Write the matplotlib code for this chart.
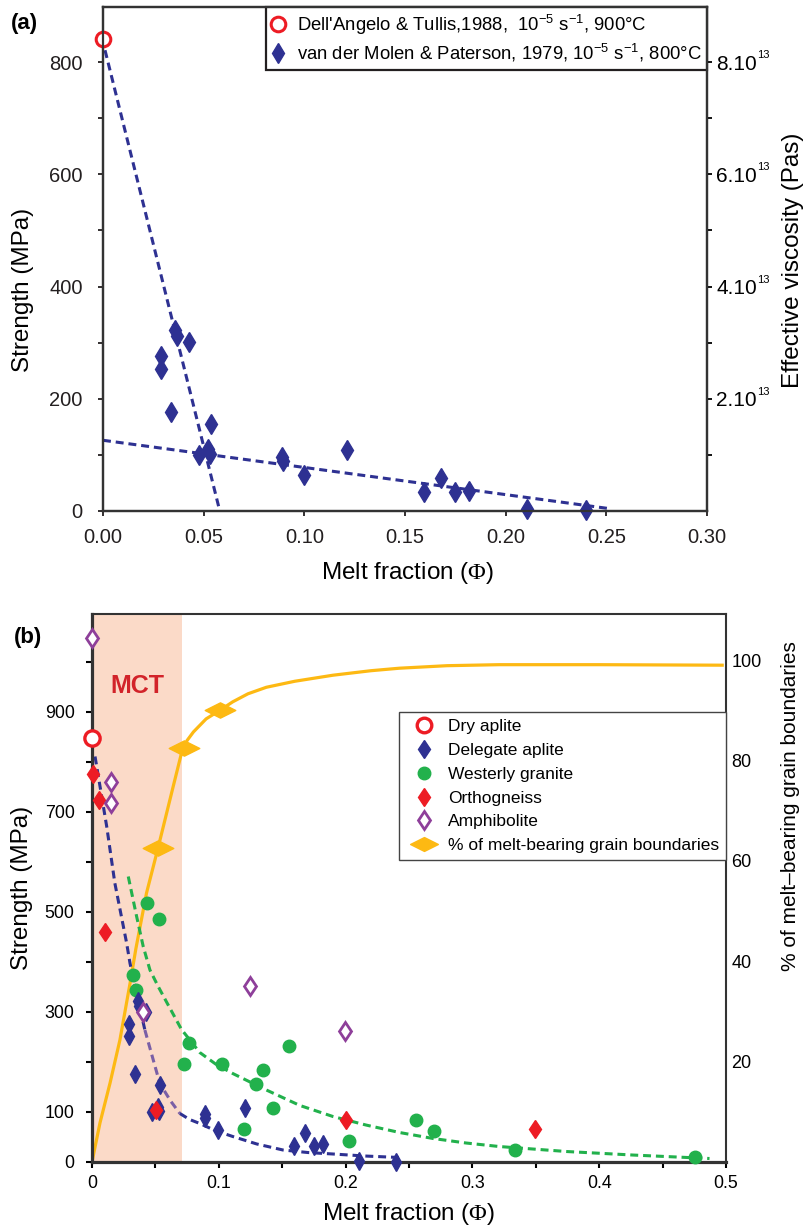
import numpy as np
import matplotlib.pyplot as plt
from matplotlib.lines import Line2D
from matplotlib.path import Path
from matplotlib.transforms import blended_transform_factory

plt.rcParams['font.family'] = ['Liberation Sans', 'DejaVu Sans']
plt.rcParams['mathtext.fontset'] = 'custom'
plt.rcParams['mathtext.rm'] = 'Liberation Sans'
plt.rcParams['mathtext.it'] = 'Liberation Sans:italic'
plt.rcParams['mathtext.bf'] = 'Liberation Sans:bold'
plt.rcParams['mathtext.tt'] = 'Liberation Serif'

# colores
navy = '#2e3192'
red = '#ed1c24'
green = '#22b14c'
purple = '#8e3f9a'
lavender = '#7a5fa6'
yellow = '#fdb913'
salmon = '#fbdac8'
black = '#231f20'

# ---------------- datos ----------------
# Dell'Angelo & Tullis (dry aplite)
dry_x_a = [0.0]
dry_y_a = [841]
dry_x_b = [0.0]
dry_y_b = [849]

# van der Molen & Paterson (Delegate aplite)
del_x = [0.029, 0.029, 0.034, 0.036, 0.037, 0.0425, 0.0477, 0.052, 0.053, 0.0535,
         0.089, 0.0895, 0.0997, 0.121, 0.1595, 0.1677, 0.175, 0.182, 0.2105, 0.240]
del_y = [276, 253, 176, 322, 312, 301, 100, 111, 102, 155,
         97, 89, 64, 109, 33, 58, 33, 36, 3, 1]

# rectas de ajuste (a)
steep_x = [0.001, 0.058]
steep_y = [821, 0]
shallow_x = [0.0, 0.252]
shallow_y = [126, 4]

# Westerly granite
wes_x = [0.0325, 0.0346, 0.043, 0.053, 0.0766, 0.0727, 0.1026, 0.1349, 0.1297, 0.155,
         0.1428, 0.12, 0.2024, 0.2557, 0.27, 0.3336, 0.4753]
wes_y = [374, 344, 519, 487, 239, 196, 196, 185, 157, 233,
         109, 66, 42, 85, 63, 24, 11]

# Orthogneiss
ort_x = [0.0005, 0.0055, 0.0102, 0.0501, 0.2, 0.3494]
ort_y = [777, 724, 461, 104, 85, 67]

# Amphibolite
amp_x = [0.0003, 0.015, 0.015, 0.04, 0.1244, 0.1992]
amp_y = [1049, 761, 719, 301, 352, 262]

# curvas de ajuste (b)
blue_fx = [0.0024, 0.0116, 0.018, 0.0273, 0.030, 0.0417, 0.0535, 0.062, 0.0693, 0.077,
           0.085, 0.097, 0.111, 0.13, 0.1506, 0.17, 0.19, 0.215, 0.2425]
blue_fy = [811, 671, 558, 438, 397, 264, 157, 122, 97, 85,
           77, 63, 51, 36, 24, 19, 16, 12, 9]
green_fx = [0.0286, 0.0352, 0.0404, 0.0457, 0.052, 0.0588, 0.0706, 0.085, 0.098, 0.111,
            0.1375, 0.164, 0.19, 0.216, 0.2425, 0.269, 0.295, 0.321, 0.374, 0.426, 0.487]
green_fy = [571, 491, 431, 384, 352, 320, 265, 219, 195, 177,
            144, 113, 91, 74, 59, 47, 38, 31, 21, 14, 7]

# % de bordes de grano con fundido
pct_x = [0, 0.0063, 0.0142, 0.022, 0.030, 0.0346, 0.043, 0.052, 0.064, 0.0706,
         0.075, 0.080, 0.090, 0.1008, 0.111, 0.123, 0.1375, 0.16, 0.19, 0.22,
         0.2425, 0.28, 0.321, 0.40, 0.497]
pct_y = [0, 7.8, 15.7, 24.3, 35.6, 42.5, 53.6, 62.5, 74.8, 81.5,
         84.0, 85.7, 88.3, 90.0, 91.7, 93.3, 94.6, 95.8, 97.0, 97.9,
         98.4, 98.9, 99.1, 99.1, 99.0]
pct_mx = [0.052, 0.0725, 0.1008]
pct_my = [62.5, 82.5, 90]

mct_end = 0.0706

# ticks
xa_ticks = [0, 0.05, 0.10, 0.15, 0.20, 0.25, 0.30]
xa_labels = ['0.00', '0.05', '0.10', '0.15', '0.20', '0.25', '0.30']
ya_ticks = [0, 200, 400, 600, 800]
visc_ticks = [2, 4, 6, 8]
visc_labels = ['%d.10' % v for v in visc_ticks]
xb_ticks = [0, 0.1, 0.2, 0.3, 0.4, 0.5]
xb_labels = ['0', '0.1', '0.2', '0.3', '0.4', '0.5']
yb_ticks = [0, 100, 300, 500, 700, 900]
pct_ticks = [20, 40, 60, 80, 100]

# rombo ancho para el % (marcador propio)
wide_diamond = Path([(-1, 0), (0, 0.5), (1, 0), (0, -0.5), (-1, 0)],
                    [Path.MOVETO, Path.LINETO, Path.LINETO, Path.LINETO, Path.CLOSEPOLY])

W, H = 807, 1229
fig = plt.figure(figsize=(W / 100, H / 100), dpi=100)

# ================= (a) =================
ax = fig.add_axes([103 / W, 1 - 511 / H, 604 / W, 504 / H])
ax.plot(steep_x, steep_y, color=navy, lw=2.2, dashes=(2.6, 1.6), zorder=2)
ax.plot(shallow_x, shallow_y, color=navy, lw=2.2, dashes=(2.6, 1.6), zorder=2)
ax.plot(del_x, del_y, 'd', color=navy, ms=10, ls='none', zorder=3, clip_on=False)
ax.plot(dry_x_a, dry_y_a, 'o', mfc='white', mec=red, mew=2.2, ms=10.5, ls='none',
        zorder=4, clip_on=False)
ax.set_xlim(0, 0.30)
ax.set_ylim(0, 898)
ax.set_xticks(xa_ticks)
ax.set_xticklabels(xa_labels)
ax.set_yticks(ya_ticks)
ax.set_yticks(np.arange(100, 800, 200), minor=True)
ax.tick_params(axis='y', which='both', direction='out', length=3.5, width=1.3,
               labelsize=14.5, pad=11, colors=black)
ax.tick_params(axis='x', which='both', direction='out', length=3.5, width=1.3,
               labelsize=14.5, pad=9, colors=black)
for s in ax.spines.values():
    s.set_linewidth(1.6)
    s.set_color('#333333')
ax.set_xlabel(r'Melt fraction ($\mathtt{\Phi}$)', fontsize=17.5, va='center')
ax.xaxis.set_label_coords((408 - 103) / 604, (511 - 573) / 504)
ax.set_ylabel('Strength (MPa)', fontsize=17.5, va='center')
ax.yaxis.set_label_coords((23 - 103) / 604, (511 - 290) / 504)

ax2 = ax.twinx()
ax2.set_ylim(0, 8.98)
ax2.set_yticks(visc_ticks)
ax2.set_yticklabels(visc_labels)
ax2.set_yticks([1, 3, 5, 7], minor=True)
ax2.tick_params(axis='y', which='both', direction='out', length=3.5, width=1.3,
                labelsize=15, pad=3)
# exponente pequeño de las etiquetas de viscosidad
tr = blended_transform_factory(ax2.transAxes, ax2.transData)
for v in visc_ticks:
    ax2.annotate('13', xy=(1, v), xycoords=tr, xytext=(36, 5), textcoords='offset points',
                 fontsize=8, ha='left', va='center', annotation_clip=False)
ax2.set_ylabel('Effective viscosity (Pas)', fontsize=17.5, va='center', rotation=90)
ax2.yaxis.set_label_coords((793 - 103) / 604, (511 - 260) / 504)
for s in ax2.spines.values():
    s.set_linewidth(1.6)
    s.set_color('#333333')

h_a = [Line2D([], [], marker='o', mfc='white', mec=red, mew=2.2, ms=10.5, ls='none'),
       Line2D([], [], marker='d', color=navy, ms=10, ls='none')]
l_a = [r"Dell'Angelo & Tullis,1988,  10$^{-5}$ s$^{-1}$, 900°C",
       r'van der Molen & Paterson, 1979, 10$^{-5}$ s$^{-1}$, 800°C']
leg = ax.legend(h_a, l_a, loc='upper right', borderaxespad=0, fontsize=13.3,
                handlelength=0.7, handletextpad=0.65, borderpad=0.3, labelspacing=0.3,
                fancybox=False, framealpha=1, edgecolor=black)
leg.get_frame().set_linewidth(1.6)

fig.text(24 / W, 1 - 24 / H, '(a)', fontsize=16, fontweight='bold', ha='center', va='center')

# ================= (b) =================
bx = fig.add_axes([92 / W, 1 - 1162 / H, 634 / W, 548 / H])
bx2 = bx.twinx()
bx.set_zorder(2)
bx2.set_zorder(1)
bx.patch.set_visible(False)

bx2.axvspan(0, mct_end, color=salmon, lw=0, zorder=0)
bx2.plot(pct_x, pct_y, color=yellow, lw=2.3, zorder=2)
bx2.plot(pct_mx, pct_my, marker=wide_diamond, color=yellow, ms=22, ls='none', zorder=3)
bx2.set_ylim(0, 109.2)
bx2.set_yticks(pct_ticks)
bx2.tick_params(axis='y', length=0, labelsize=13, pad=4)
bx2.set_ylabel('% of melt\u2013bearing grain boundaries', fontsize=15, va='center')
bx2.yaxis.set_label_coords((790 - 92) / 634, (1162 - 806) / 548)

# la curva azul se ve violácea dentro de la franja MCT
i0, i1 = 5, 8
bx.plot(blue_fx[:i0 + 1], blue_fy[:i0 + 1], color=navy, lw=2.2, dashes=(2.6, 1.6), zorder=2)
bx.plot(blue_fx[i0:i1 + 1], blue_fy[i0:i1 + 1], color=lavender, lw=2.2, dashes=(2.6, 1.6),
        zorder=2)
bx.plot(blue_fx[i1:], blue_fy[i1:], color=navy, lw=2.2, dashes=(2.6, 1.6), zorder=2)
bx.plot(green_fx, green_fy, color=green, lw=2.2, dashes=(2.6, 1.6), zorder=2)
bx.plot(wes_x, wes_y, 'o', color=green, ms=9, ls='none', zorder=3, clip_on=False)
bx.plot(del_x, del_y, 'd', color=navy, ms=8.7, ls='none', zorder=3, clip_on=False)
bx.plot(ort_x, ort_y, 'd', color=red, ms=9.5, ls='none', zorder=4, clip_on=False)
bx.plot(amp_x, amp_y, 'd', mfc='white', mec=purple, mew=2, ms=9.5, ls='none', zorder=4,
        clip_on=False)
bx.plot(dry_x_b, dry_y_b, 'o', mfc='white', mec=red, mew=2.4, ms=11, ls='none', zorder=5,
        clip_on=False)
bx.text(0.036, 952, 'MCT', color='#d2232a', fontsize=18, fontweight='bold',
        ha='center', va='center')

bx.set_xlim(0, 0.5)
bx.set_ylim(0, 1096)
bx.set_xticks(xb_ticks)
bx.set_xticklabels(xb_labels)
bx.set_xticks(np.arange(0.05, 0.5, 0.1), minor=True)
bx.set_yticks(yb_ticks)
bx.set_yticks(np.arange(200, 1100, 200), minor=True)
bx.tick_params(axis='both', which='both', direction='out', length=4.5, width=1.5,
               labelsize=12.8)
bx.tick_params(axis='y', which='both', pad=8)
bx.tick_params(axis='x', which='both', pad=5)
for k, s in bx.spines.items():
    s.set_color('#333333')
    s.set_linewidth(2.3 if k in ('left', 'bottom') else 1.5)
for s in bx2.spines.values():
    s.set_visible(False)
bx.set_xlabel(r'Melt fraction ($\mathtt{\Phi}$)', fontsize=17.5, va='center')
bx.xaxis.set_label_coords((409 - 92) / 634, (1162 - 1214) / 548)
bx.set_ylabel('Strength (MPa)', fontsize=17.5, va='center')
bx.yaxis.set_label_coords((22 - 92) / 634, (1162 - 888) / 548)

h_b = [Line2D([], [], marker='o', mfc='white', mec=red, mew=2.4, ms=10.5, ls='none'),
       Line2D([], [], marker='d', color=navy, ms=9.5, ls='none'),
       Line2D([], [], marker='o', color=green, ms=9, ls='none'),
       Line2D([], [], marker='d', color=red, ms=9.5, ls='none'),
       Line2D([], [], marker='d', mfc='white', mec=purple, mew=2, ms=9.5, ls='none'),
       Line2D([], [], marker=wide_diamond, color=yellow, ms=20, ls='none')]
l_b = ['Dry aplite', 'Delegate aplite', 'Westerly granite', 'Orthogneiss', 'Amphibolite',
       '% of melt-bearing grain boundaries']
legb = bx.legend(h_b, l_b, loc='upper right', bbox_to_anchor=(1.0, (1162 - 712) / 548),
                 borderaxespad=0, fontsize=12.5, handlelength=2.0, handletextpad=0.4,
                 borderpad=0.4, labelspacing=0.5, fancybox=False, framealpha=1,
                 edgecolor='#444444')
legb.get_frame().set_linewidth(1.0)

fig.text(28 / W, 1 - 638 / H, '(b)', fontsize=16, fontweight='bold', ha='center', va='center')

fig.savefig('out.png', dpi=100)
